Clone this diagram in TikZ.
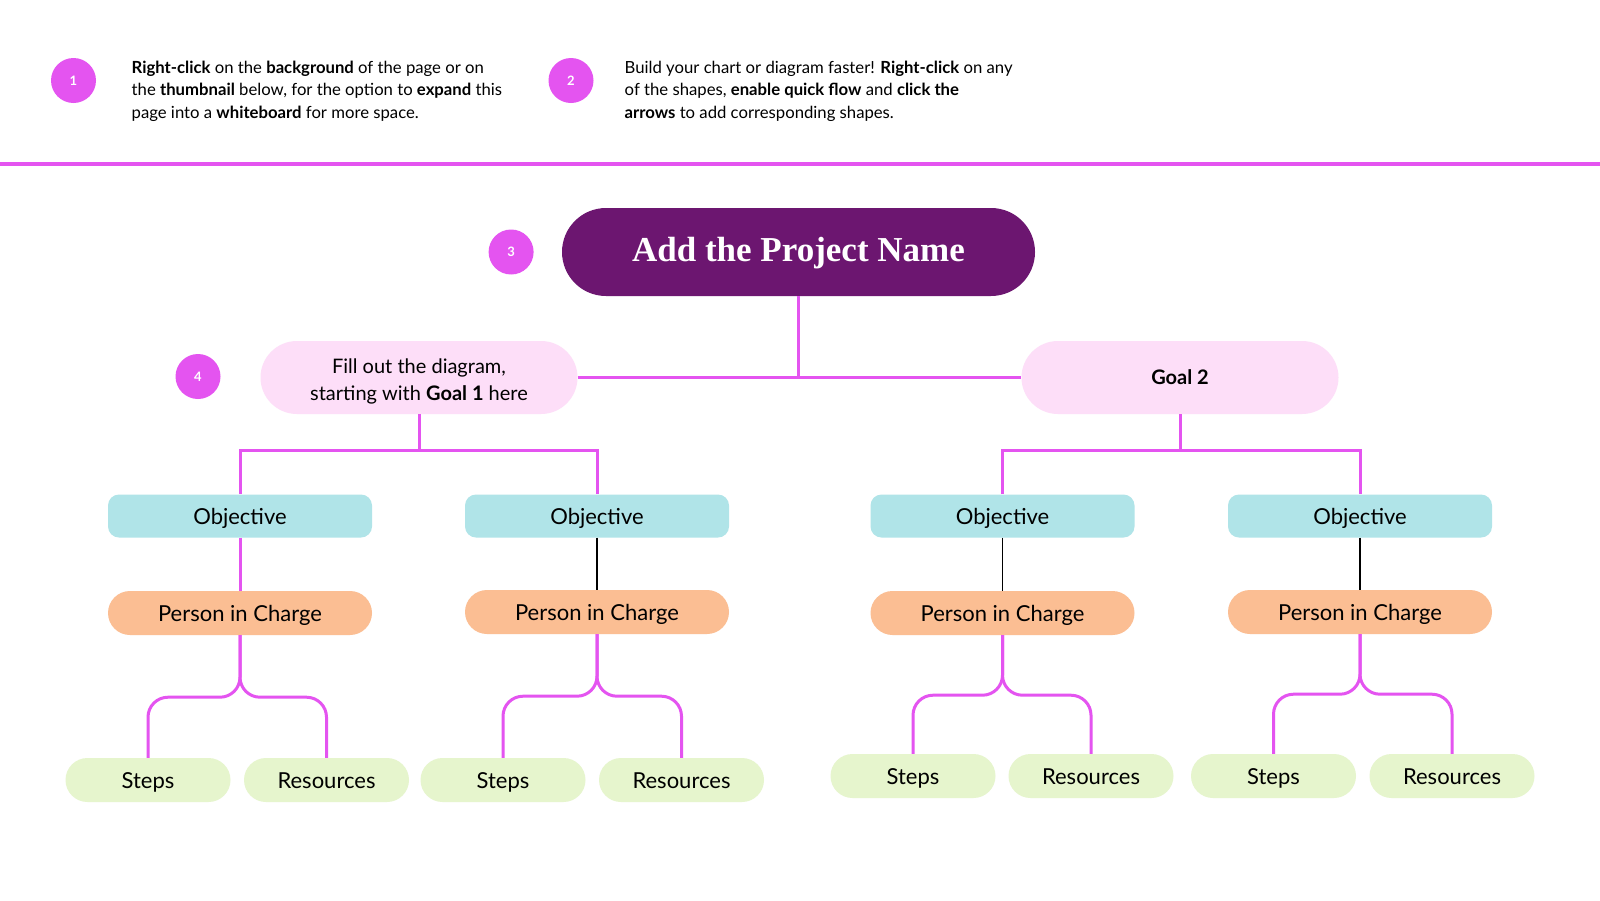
\documentclass[tikz,border=0pt]{standalone}
\usepackage{fontspec}
\setmainfont{Lato}
\newfontfamily\titlefont{Liberation Serif}
\usepackage{xcolor}
\definecolor{mymagenta}{RGB}{228,84,240}
\definecolor{darkpurple}{RGB}{108,22,112}
\definecolor{mypink}{RGB}{253,222,248}
\definecolor{myskyblue}{RGB}{176,228,232}
\definecolor{mypeach}{RGB}{251,190,147}
\definecolor{mylightgreen}{RGB}{230,245,205}
\usetikzlibrary{positioning}
\usetikzlibrary{shapes.misc}
\newcommand{\bodysize}{\fontsize{22}{26}\selectfont}
\tikzset{
    common/.style={inner sep=0pt, text=black, font=\bodysize, text height=19, text depth=2},
    pill/.style={common, rounded rectangle},
    badge/.style={circle, fill=mymagenta, minimum size=45, inner sep=0pt, text=white, font=\fontsize{13}{15}\selectfont\bfseries},
    note/.style={anchor=west, align=left, inner sep=0pt, font=\fontsize{16.7}{22.4}\selectfont},
    project/.style={pill, fill=darkpurple, minimum width=473, minimum height=88, text=white, text height=24, text depth=6, font=\titlefont\bfseries\fontsize{35}{40}\selectfont},
    goal/.style={pill, fill=mypink, minimum width=317, minimum height=73, align=center, text height=, text depth=, font=\fontsize{20}{27.5}\selectfont},
    objective/.style={common, fill=myskyblue, rounded corners=11, minimum width=264, minimum height=43},
    incharge/.style={pill, fill=mypeach, minimum width=264, minimum height=44},
    leaf/.style={pill, fill=mylightgreen, minimum width=165, minimum height=44},
    magline/.style={mymagenta, line width=3},
    thinline/.style={black, line width=1.2},
    split/.style={magline, rounded corners=20}
}

\begin{document}
\begin{tikzpicture}[x=1pt, y=-1pt]
  \useasboundingbox (0,0) rectangle (1600,900);
  \fill[white] (0,0) rectangle (1600,900);

  \node[badge] (step-1) at (73.5,80.5) {1};
  \node[note] (note-1) at (131.5,91) {\textbf{Right-click} on the \textbf{background} of the page or on\\
    the \textbf{thumbnail} below, for the option to \textbf{expand} this\\
    page into a \textbf{whiteboard} for more space.};
  \node[badge] (step-2) at (571,80.5) {2};
  \node[note] (note-2) at (624.5,91) {Build your chart or diagram faster! \textbf{Right-click} on any\\
    of the shapes, \textbf{enable quick flow} and \textbf{click the}\\
    \textbf{arrows} to add corresponding shapes.};

  \draw[mymagenta, line width=4] (0,164) -- (1600,164);

  \node[project] (title) at (798.5,252) {Add the Project Name};
  \node[badge, left=28 of title] (step-3) {3};

  \node[goal] (goal-1) at (419,377.5) {\rule{0pt}{23pt}Fill out the diagram,\\starting with \textbf{Goal 1} here};
  \node[badge] (step-4) at (198,376.5) {4};
  \node[goal] (goal-2) at (1180,377.5) {\textbf{Goal 2}};

  \node[objective] (obj-a) at (240,516) {Objective};
  \node[objective] (obj-b) at (597,516) {Objective};
  \node[objective] (obj-c) at (1002.5,516) {Objective};
  \node[objective] (obj-d) at (1360,516) {Objective};

  \node[incharge] (pic-a) at (240,613) {Person in Charge};
  \node[incharge] (pic-b) at (597,612) {Person in Charge};
  \node[incharge] (pic-c) at (1002.5,613) {Person in Charge};
  \node[incharge] (pic-d) at (1360,612) {Person in Charge};

  \node[leaf] (steps-a) at (148,780) {Steps};
  \node[leaf] (res-a) at (326.5,780) {Resources};
  \node[leaf] (steps-b) at (503,780) {Steps};
  \node[leaf] (res-b) at (681.5,780) {Resources};
  \node[leaf] (steps-c) at (913,776) {Steps};
  \node[leaf] (res-c) at (1091,776) {Resources};
  \node[leaf] (steps-d) at (1273.5,776) {Steps};
  \node[leaf] (res-d) at (1452,776) {Resources};

  \draw[magline] (goal-1.east) -- (goal-2.west);
  \draw[magline] (title.south) -- (title.south |- goal-1.east);

  \draw[magline] (goal-1.south) -- ++(0,36) -| (obj-a.north);
  \draw[magline] (goal-1.south) -- ++(0,36) -| (obj-b.north);
  \draw[magline] (goal-2.south) -- ++(0,36) -| (obj-c.north);
  \draw[magline] (goal-2.south) -- ++(0,36) -| (obj-d.north);

  \draw[magline] (obj-a) -- (pic-a);
  \draw[thinline] (obj-b) -- (pic-b);
  \draw[thinline] (obj-c) -- (pic-c);
  \draw[thinline] (obj-d) -- (pic-d);

  \draw[split] (pic-a.south) -- ++(0,62) -| (steps-a.north);
  \draw[split] (pic-a.south) -- ++(0,62) -| (res-a.north);
  \draw[split] (pic-b.south) -- ++(0,62) -| (steps-b.north);
  \draw[split] (pic-b.south) -- ++(0,62) -| (res-b.north);
  \draw[split] (pic-c.south) -- ++(0,60) -| (steps-c.north);
  \draw[split] (pic-c.south) -- ++(0,60) -| (res-c.north);
  \draw[split] (pic-d.south) -- ++(0,60) -| (steps-d.north);
  \draw[split] (pic-d.south) -- ++(0,60) -| (res-d.north);
\end{tikzpicture}
\end{document}
